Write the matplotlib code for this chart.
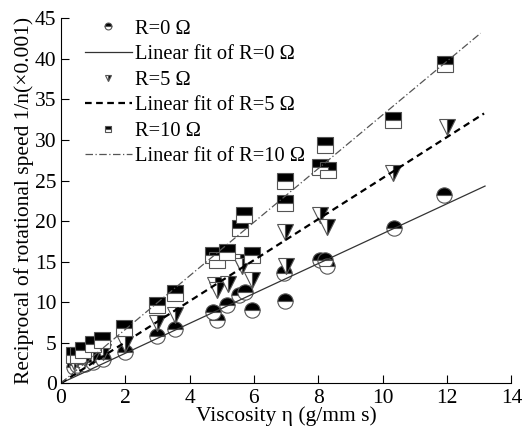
import numpy as np
import matplotlib
matplotlib.use("Agg")
import matplotlib.pyplot as plt

plt.rcParams['font.family'] = ['Liberation Serif', 'DejaVu Serif']
plt.rcParams['mathtext.fontset'] = 'stix'

# R = 0 Ohm
x0 = [0.4, 0.5, 0.75, 1.0, 1.3, 2.0, 3.0, 3.55, 4.74, 4.85, 5.16, 5.55, 5.72, 5.95, 6.95, 6.97, 8.05, 8.2, 8.26, 10.36, 11.92]
y0 = [2.0, 2.3, 2.4, 2.6, 3.0, 3.9, 5.8, 6.7, 8.8, 7.8, 9.7, 10.9, 11.3, 9.0, 13.6, 10.1, 15.2, 15.2, 14.4, 19.1, 23.2]

# R = 5 Ohm
x5 = [0.4, 0.5, 0.75, 1.0, 1.3, 2.0, 2.98, 3.55, 4.79, 4.84, 5.19, 5.57, 5.62, 5.95, 6.97, 7.0, 8.05, 8.26, 10.33, 11.99]
y5 = [2.6, 3.0, 3.0, 3.4, 3.8, 4.9, 7.4, 8.4, 12.1, 11.5, 12.3, 15.0, 14.4, 12.7, 18.7, 14.4, 20.8, 19.3, 25.9, 31.6]

# R = 10 Ohm
x10 = [0.41, 0.55, 0.7, 1.01, 1.27, 1.95, 2.98, 3.55, 4.74, 4.84, 5.16, 5.57, 5.7, 5.95, 6.97, 6.97, 8.05, 8.21, 8.31, 10.33, 11.94]
y10 = [3.5, 3.5, 4.1, 4.9, 5.3, 6.8, 9.7, 11.1, 15.8, 15.2, 16.2, 19.1, 20.8, 15.8, 24.9, 22.2, 26.7, 29.4, 26.3, 32.5, 39.4]

# linear fits (slope)
fit_slopes = [1.845, 2.53, 3.31]
fit_xmax = [13.18, 13.15, 13.04]
labels = ['R=0 Ω', 'R=5 Ω', 'R=10 Ω']

fig = plt.figure(figsize=(5.24, 4.37), dpi=100)
ax = fig.add_axes([0.116, 0.123, 0.86, 0.835])

mk = dict(markersize=11, markeredgecolor='#555555', markeredgewidth=0.8,
          markerfacecolor='black', markerfacecoloralt='white', linestyle='none')
h0, = ax.plot(x0, y0, marker='o', fillstyle='top', **mk)
h5, = ax.plot(x5, y5, marker='v', fillstyle='right', **mk)
h10, = ax.plot(x10, y10, marker='s', fillstyle='top', **mk)

styles = [dict(color='#333333', lw=0.9, ls='-'),
          dict(color='black', lw=1.6, ls=(0, (3, 2))),
          dict(color='#555555', lw=0.9, ls=(0, (6, 2, 1, 2)))]
fits = []
for k in range(3):
    xx = np.array([0.0, fit_xmax[k]])
    l, = ax.plot(xx, fit_slopes[k] * xx, **styles[k])
    fits.append(l)

ax.set_xlim(0, 14)
ax.set_ylim(0, 45)
ax.set_xticks(range(0, 15, 2))
ax.set_yticks(range(0, 46, 5))
ax.spines['top'].set_visible(False)
ax.spines['right'].set_visible(False)
ax.tick_params(direction='in', length=6, labelsize=15.5)
ax.tick_params(axis='x', pad=4)
ax.tick_params(axis='y', pad=3)
ax.set_xlabel('Viscosity η (g/mm s)', fontsize=15.5, labelpad=-1)
ax.set_ylabel('Reciprocal of rotational speed 1/n(×0.001)', fontsize=15.5, labelpad=1)

handles = [h0, fits[0], h5, fits[1], h10, fits[2]]
names = [labels[0], 'Linear fit of ' + labels[0], labels[1], 'Linear fit of ' + labels[1],
         labels[2], 'Linear fit of ' + labels[2]]
ax.legend(handles, names, loc='upper left', frameon=False, fontsize=14.8,
          markerscale=0.45, handlelength=2.3, handletextpad=0.15,
          labelspacing=0.3, borderaxespad=0.0, bbox_to_anchor=(0.035, 1.02))

fig.savefig('out.png', dpi=100)
